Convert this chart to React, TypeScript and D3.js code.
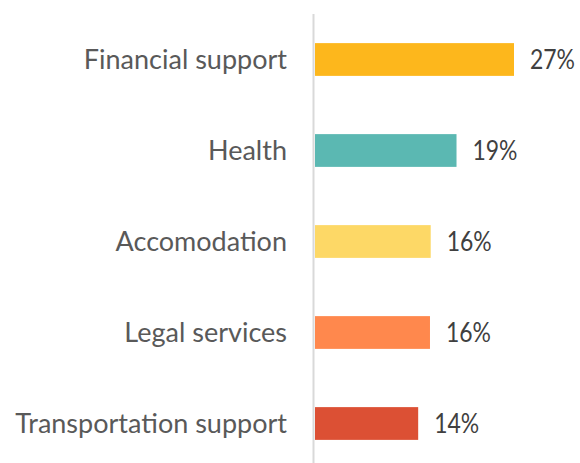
import React from "react";
import * as d3 from "d3";

const categories = ["Financial support", "Health", "Accomodation", "Legal services", "Transportation support"];
const values = [27.0, 19.2, 15.7, 15.6, 14.0];
const colors = ["#FDB71C", "#5BB8B2", "#FDD866", "#FF884D", "#DC5034"];

const W = 580;
const H = 463;
const x0 = 315;

export default function App() {
  const y = d3.scaleBand<string>().domain(categories).range([14, 469]).paddingInner(0.64).paddingOuter(0.32);
  const x = d3.scaleLinear().domain([0, 27]).range([x0, 514]);
  return (
    <svg width={W} height={H} style={{ position: "absolute", left: 0, top: 0, fontFamily: "Lato, 'Gill Sans', sans-serif" }}>
      <rect width={W} height={H} fill="#ffffff" />
      {categories.map((c, i) => {
        const yy = y(c)!;
        const bw = y.bandwidth();
        return (
          <g key={c}>
            <rect x={x(0)} y={yy} width={x(values[i]) - x(0)} height={bw} fill={colors[i]} />
            <text x={287} y={yy + bw / 2} dy="0.36em" textAnchor="end" fontSize={27} fill="#595959">{c}</text>
            <text x={x(values[i]) + 16} y={yy + bw / 2} dy="0.36em" textAnchor="start" fontSize={26} fill="#404040" textLength={45} lengthAdjust="spacingAndGlyphs">{`${Math.round(values[i])}%`}</text>
          </g>
        );
      })}
      <line x1={313.5} x2={313.5} y1={14} y2={H} stroke="#d9d9d9" strokeWidth={2} />
    </svg>
  );
}
